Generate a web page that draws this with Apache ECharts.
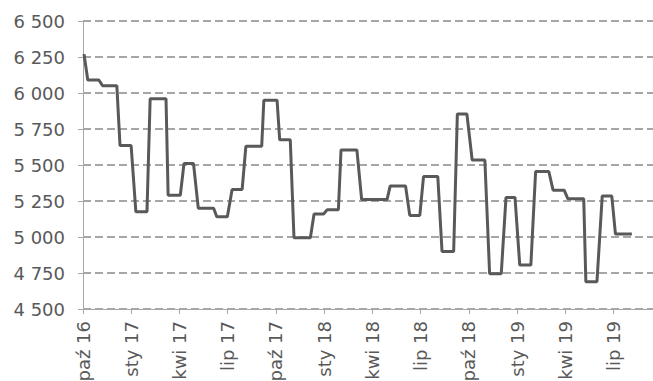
<!DOCTYPE html>
<html>
<head>
<meta charset="utf-8">
<script src="https://cdn.jsdelivr.net/npm/echarts@6/dist/echarts.min.js"></script>
<style>
  html, body { margin: 0; padding: 0; background: #fff; }
  #chart { width: 653px; height: 381px; }
</style>
</head>
<body>
<div id="chart"></div>
<script>
// weekly price series, only the points where the level changes
var dates = [
  '2016-10-03', '2016-10-10', '2016-10-31', '2016-11-07', '2016-12-04', '2016-12-10', '2016-12-31',
  '2017-01-09', '2017-01-30', '2017-02-05', '2017-03-07', '2017-03-11', '2017-04-03', '2017-04-10',
  '2017-04-28', '2017-05-07', '2017-06-05', '2017-06-11', '2017-07-01', '2017-07-10', '2017-07-29',
  '2017-08-05', '2017-09-04', '2017-09-08', '2017-10-03', '2017-10-08', '2017-10-28', '2017-11-04',
  '2017-12-05', '2017-12-12', '2017-12-30', '2018-01-06', '2018-01-27', '2018-02-01', '2018-03-03',
  '2018-03-12', '2018-04-29', '2018-05-05', '2018-06-03', '2018-06-11', '2018-06-30', '2018-07-07',
  '2018-08-03', '2018-08-11', '2018-09-02', '2018-09-09', '2018-09-27', '2018-10-07', '2018-10-31',
  '2018-11-09', '2018-12-01', '2018-12-10', '2018-12-27', '2019-01-05', '2019-01-26', '2019-02-04',
  '2019-03-01', '2019-03-09', '2019-03-30', '2019-04-06', '2019-05-06', '2019-05-10', '2019-05-31',
  '2019-06-10', '2019-06-28', '2019-07-05', '2019-08-05'
]
var prices = [
  6270, 6090, 6090, 6050, 6050, 5635, 5635,
  5175, 5175, 5960, 5960, 5290, 5290, 5510,
  5510, 5200, 5200, 5140, 5140, 5330, 5330,
  5630, 5630, 5950, 5950, 5675, 5675, 4995,
  4995, 5160, 5160, 5190, 5190, 5605, 5605,
  5260, 5260, 5355, 5355, 5150, 5150, 5420,
  5420, 4900, 4900, 5855, 5855, 5535, 5535,
  4745, 4745, 5275, 5275, 4805, 4805, 5455,
  5455, 5325, 5325, 5265, 5265, 4690, 4690,
  5285, 5285, 5020, 5020
]
var tickDates = [
  '2016-10-01', '2017-01-01', '2017-04-01', '2017-07-01', '2017-10-01', '2018-01-01',
  '2018-04-01', '2018-07-01', '2018-10-01', '2019-01-01', '2019-04-01', '2019-07-01'
]
var tickLabels = [
  'paź 16', 'sty 17', 'kwi 17', 'lip 17', 'paź 17', 'sty 18',
  'kwi 18', 'lip 18', 'paź 18', 'sty 19', 'kwi 19', 'lip 19'
]
var xMin = '2016-10-01'
var xMax = '2019-09-14'

// day number counted from xMin, used as the category index
function toDay(s) {
  var p = s.split('-')
  var t0 = xMin.split('-')
  return Math.round((Date.UTC(+p[0], +p[1] - 1, +p[2]) - Date.UTC(+t0[0], +t0[1] - 1, +t0[2])) / 86400000)
}

var tickDays = tickDates.map(toDay)
var days = []
for (var d = 0; d <= toDay(xMax); d++) {
  days.push(String(d))
}
function isTick(index) {
  return tickDays.indexOf(index) >= 0
}

var textColor = '#595959'
var axisColor = '#a6a6a6'

var chart = echarts.init(document.getElementById('chart'), null, { renderer: 'svg' })
chart.setOption({
  animation: false,
  grid: {
    left: 83,
    right: 0,
    top: 21,
    bottom: 72,
    outerBoundsMode: 'none'
  },
  xAxis: {
    type: 'category',
    boundaryGap: false,
    data: days,
    axisLine: {
      lineStyle: { color: axisColor, width: 1 }
    },
    axisTick: {
      show: true,
      length: 5,
      interval: isTick,
      lineStyle: { color: axisColor, width: 1 }
    },
    axisLabel: {
      interval: isTick,
      rotate: 90,
      margin: 12,
      fontFamily: 'DejaVu Sans',
      fontSize: 18,
      color: textColor,
      formatter: function(value) {
        var k = tickDays.indexOf(+value)
        return k < 0 ? '' : tickLabels[k]
      }
    },
    splitLine: { show: false }
  },
  yAxis: {
    type: 'value',
    min: 4500,
    max: 6500,
    interval: 250,
    axisLine: {
      show: true,
      lineStyle: { color: axisColor, width: 1 }
    },
    axisTick: {
      show: true,
      length: 5,
      lineStyle: { color: axisColor, width: 1 }
    },
    axisLabel: {
      margin: 18,
      fontFamily: 'DejaVu Sans',
      fontSize: 18,
      color: textColor,
      formatter: function(value) {
        return String(value).replace(/\B(?=(\d{3})+(?!\d))/g, ' ')
      }
    },
    splitLine: {
      show: true,
      lineStyle: {
        color: axisColor,
        width: 2,
        type: 'dashed'
      }
    }
  },
  series: [{
    type: 'line',
    data: dates.map(function(d, i) { return [toDay(d), prices[i]] }),
    showSymbol: false,
    lineStyle: { color: textColor, width: 3 }
  }]
})
</script>
</body>
</html>
